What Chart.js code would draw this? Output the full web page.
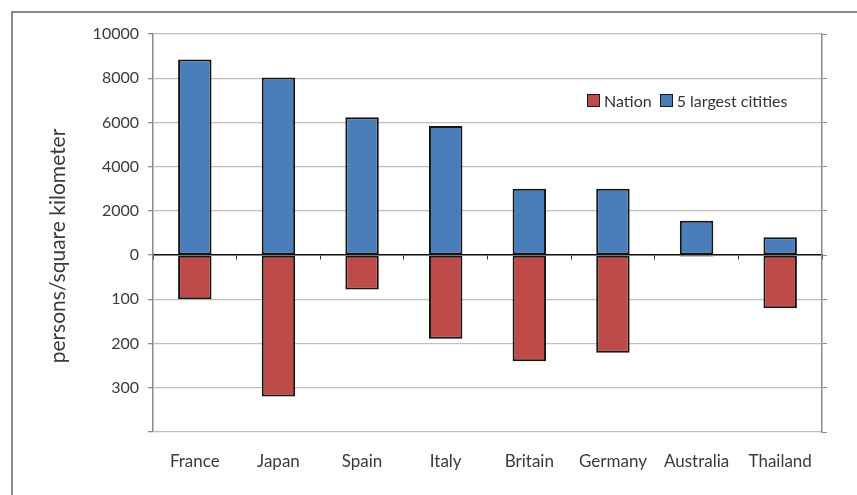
<!DOCTYPE html>
<html lang="en">
<head>
<meta charset="UTF-8">
<title>Population density: nation vs. 5 largest cities</title>
<script src="https://cdn.jsdelivr.net/npm/chart.js"></script>
<style>
  html, body { margin: 0; padding: 0; background: #fff; overflow: hidden; }
  #wrap { position: relative; width: 857px; height: 495px; }
  #frame {
    position: absolute; left: 11px; top: 11px; width: 900px; height: 600px;
    border: 2px solid #8a8a8a; box-sizing: border-box;
  }
  #densityChart { position: absolute; left: 0; top: 0; }
  #legend {
    position: absolute; left: 587px; top: 91px;
    font: 16px Lato, sans-serif; color: #333;
    display: flex; align-items: center; white-space: nowrap;
  }
  .swatch {
    display: inline-block; width: 11px; height: 11px;
    border: 1.5px solid #1a1a1a; margin-right: 4px;
  }
  .item { display: flex; align-items: center; margin-right: 8px; }
</style>
</head>
<body>
<div id="wrap">
  <div id="frame"></div>
  <canvas id="densityChart" width="857" height="495"></canvas>
  <div id="legend"></div>
</div>
<script>
  const countries = ["France", "Japan", "Spain", "Italy", "Britain", "Germany", "Australia", "Thailand"];
  // persons per square kilometer
  const nationDensity = [100, 320, 78, 189, 240, 221, 3, 120];
  const cityDensity = [8850, 8030, 6230, 5840, 3000, 3000, 1550, 810];

  const seriesNames = ["Nation", "5 largest citities"];
  const seriesColors = ["#be4b48", "#4a7ebb"];
  const axisTitle = "persons/square kilometer";

  // upper half shows city values, lower half nation values on a finer scale
  const cityFactor = 20;
  const axisMin = -400;
  const axisMax = 500;

  const grey = "#8a8a8a";
  const gridGrey = "#bfbfbf";
  const textColor = "#3a3a3a";
  const font = "Lato";

  // legend sits inside the plot area
  const legendEl = document.getElementById("legend");
  seriesNames.forEach((name, i) => {
    const item = document.createElement("span");
    item.className = "item";
    item.innerHTML = '<span class="swatch" style="background:' + seriesColors[i] + '"></span>' + name;
    legendEl.appendChild(item);
  });

  // rotated axis title, a little below the middle of the plot
  const yTitle = {
    id: "yTitle",
    afterDraw(chart) {
      const c = chart.ctx;
      const area = chart.chartArea;
      c.save();
      c.translate(58, (area.top + area.bottom) / 2 + 13);
      c.rotate(-Math.PI / 2);
      c.font = "21px " + font;
      c.fillStyle = textColor;
      c.textAlign = "center";
      c.textBaseline = "middle";
      c.fillText(axisTitle, 0, 0);
      c.restore();
    }
  };

  const ctx = document.getElementById("densityChart").getContext("2d");
  new Chart(ctx, {
    type: "bar",
    data: {
      labels: countries,
      datasets: [{
        label: seriesNames[0],
        data: nationDensity.map(v => -v),
        backgroundColor: seriesColors[0]
      }, {
        label: seriesNames[1],
        data: cityDensity.map(v => v / cityFactor),
        backgroundColor: seriesColors[1]
      }]
    },
    plugins: [yTitle],
    options: {
      responsive: false,
      animation: false,
      layout: { padding: { top: 34, left: 0, right: 0, bottom: 0 } },
      datasets: {
        bar: {
          borderColor: "#151515",
          borderWidth: 2,
          borderSkipped: false,
          categoryPercentage: 1,
          barPercentage: 0.4
        }
      },
      plugins: {
        legend: { display: false },
        tooltip: { enabled: false }
      },
      scales: {
        x: {
          stacked: true,
          grid: { display: false, drawTicks: false },
          border: { display: false },
          ticks: { color: textColor, font: { family: font, size: 17 }, padding: 19 },
          afterFit: s => { s.height = 63; }
        },
        xZero: {
          type: "category",
          position: { y: 0 },
          offset: true,
          grid: { offset: true, drawOnChartArea: false, tickLength: 4, color: "#333", lineWidth: 1 },
          border: { color: "#111", width: 1.5 },
          ticks: { display: false }
        },
        y: {
          stacked: true,
          min: axisMin,
          max: axisMax,
          ticks: {
            stepSize: 100,
            color: textColor,
            padding: 9,
            font: { family: font, size: 16 },
            callback: v => v >= 0 ? String(v * cityFactor) : (v > axisMin ? String(-v) : "")
          },
          grid: { color: gridGrey, tickColor: grey, tickLength: 5, lineWidth: 1.3 },
          border: { color: grey, width: 1.5 },
          afterFit: s => { s.width = 153; }
        },
        yRight: {
          type: "linear",
          position: "right",
          min: axisMin,
          max: axisMax,
          ticks: { stepSize: 100, display: false },
          grid: { drawOnChartArea: false, color: grey, tickLength: 5 },
          border: { color: grey, width: 1.5 },
          afterFit: s => { s.width = 35; }
        }
      }
    }
  });
</script>
</body>
</html>
